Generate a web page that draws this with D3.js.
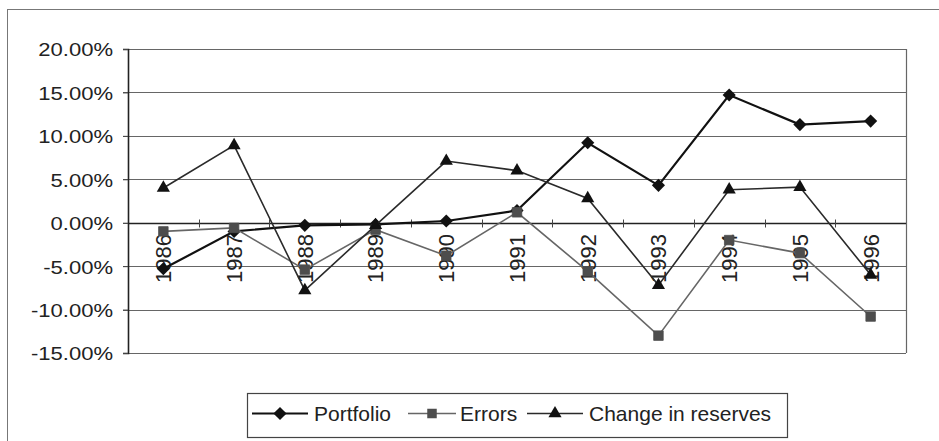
<!DOCTYPE html>
<html>
<head>
<meta charset="utf-8">
<script src="https://cdn.jsdelivr.net/npm/d3@7/dist/d3.min.js"></script>
<style>
  html, body { margin: 0; padding: 0; background: #fff; }
  svg { display: block; }
  text { font-family: "Liberation Sans", Arial, sans-serif; fill: #222; }
</style>
</head>
<body>
<svg id="chart" width="939" height="441"></svg>
<script>
// Yearly flows, in percent
const years = ["1986", "1987", "1988", "1989", "1990", "1991", "1992", "1993", "1994", "1995", "1996"];
const portfolio = [-5.3, -1.0, -0.3, -0.2, 0.2, 1.4, 9.2, 4.3, 14.7, 11.3, 11.7];
const errors = [-1.0, -0.6, -5.4, -0.8, -3.8, 1.2, -5.6, -13.0, -2.0, -3.5, -10.8];
const reserves = [4.0, 8.9, -7.8, -0.3, 7.1, 6.0, 2.8, -7.2, 3.8, 4.1, -6.0];
const yTicks = [20, 15, 10, 5, 0, -5, -10, -15];
const seriesNames = ["Portfolio", "Errors", "Change in reserves"];

const svg = d3.select("#chart");

// chart frame
svg.append("rect")
  .attr("x", 7.5).attr("y", 9.5).attr("width", 960).attr("height", 460)
  .attr("fill", "none").attr("stroke", "#777").attr("stroke-width", 1);

const plot = { left: 128, right: 906, top: 49, bottom: 353 };

const x = d3.scaleBand().domain(years).range([plot.left, plot.right]).padding(0);
const y = d3.scaleLinear().domain([-15, 20]).range([plot.bottom, plot.top]);
const cx = d => x(d) + x.bandwidth() / 2;

// horizontal gridlines
svg.append("g").selectAll("line").data(yTicks).join("line")
  .attr("x1", plot.left - 5).attr("x2", plot.right)
  .attr("y1", d => Math.round(y(d)) + 0.5).attr("y2", d => Math.round(y(d)) + 0.5)
  .attr("stroke", "#666").attr("stroke-width", 1.2);

// plot area border (right side)
svg.append("line").attr("x1", plot.right + 0.5).attr("x2", plot.right + 0.5)
  .attr("y1", plot.top).attr("y2", plot.bottom)
  .attr("stroke", "#666").attr("stroke-width", 1.2);

// value axis, labels with a plain hyphen for negatives
const pct = d => d3.format(".2f")(d).replace("\u2212", "-") + "%";
const yAxis = svg.append("g")
  .attr("transform", `translate(${plot.left},0)`)
  .call(d3.axisLeft(y).tickValues(yTicks).tickSize(5).tickFormat(pct));
yAxis.select(".domain").attr("stroke", "#222").attr("stroke-width", 1.6);
yAxis.selectAll(".tick line").attr("stroke", "#444");
yAxis.selectAll(".tick text")
  .attr("x", 0).attr("dy", null)
  .attr("dominant-baseline", "central")
  .attr("text-anchor", "end")
  .attr("font-size", 19)
  .attr("fill", "#222")
  .attr("transform", "translate(-15,0) scale(1.16,1)");

// category axis at zero
const y0 = Math.round(y(0)) + 0.5;
svg.append("line").attr("x1", plot.left).attr("x2", plot.right)
  .attr("y1", y0).attr("y2", y0).attr("stroke", "#222").attr("stroke-width", 1.4);
const boundaries = d3.range(1, years.length).map(i => x(years[i]));
svg.append("g").selectAll("line").data(boundaries).join("line")
  .attr("x1", d => Math.round(d) + 0.5).attr("x2", d => Math.round(d) + 0.5)
  .attr("y1", y0 - 4).attr("y2", y0 + 4)
  .attr("stroke", "#444").attr("stroke-width", 1);

// rotated year labels
svg.append("g").selectAll("text").data(years).join("text")
  .attr("transform", d => `translate(${cx(d)},234) rotate(-90)`)
  .attr("text-anchor", "end")
  .attr("dy", "0.36em")
  .attr("font-size", 22)
  .text(d => d);

// marker shapes
const diamond = d3.symbol().type(d3.symbolDiamond2).size(110);
const square = d3.symbol().type(d3.symbolSquare2).size(115);
const triangle = d3.symbol().type(d3.symbolTriangle).size(75);

const series = [
  { name: seriesNames[0], values: portfolio, stroke: "#111", width: 2.2, sym: diamond, fill: "#111" },
  { name: seriesNames[1], values: errors, stroke: "#666", width: 1.6, sym: square, fill: "#4d4d4d" },
  { name: seriesNames[2], values: reserves, stroke: "#2a2a2a", width: 1.6, sym: triangle, fill: "#111" }
];

const line = d3.line().x((d, i) => cx(years[i])).y(d => y(d));

series.forEach(s => {
  const g = svg.append("g");
  g.append("path").datum(s.values)
    .attr("d", line).attr("fill", "none")
    .attr("stroke", s.stroke).attr("stroke-width", s.width)
    .attr("stroke-linejoin", "miter");
  g.selectAll("path.m").data(s.values).join("path")
    .attr("class", "m")
    .attr("transform", (d, i) => `translate(${cx(years[i])},${y(d)})`)
    .attr("d", s.sym())
    .attr("fill", s.fill).attr("stroke", s.fill).attr("stroke-width", s.sym === square ? 0.8 : 0);
});

// legend
const legend = svg.append("g");
legend.append("rect")
  .attr("x", 247.5).attr("y", 393.5).attr("width", 540).attr("height", 44)
  .attr("fill", "#fff").attr("stroke", "#444").attr("stroke-width", 1.2);
const legendLines = [[252, 308], [408, 456], [527, 583]];
const legendText = [314, 460, 589];
const ly = 413.5;
series.forEach((s, i) => {
  const [a, b] = legendLines[i];
  legend.append("line")
    .attr("x1", a).attr("x2", b).attr("y1", ly).attr("y2", ly)
    .attr("stroke", s.stroke).attr("stroke-width", s.width);
  legend.append("path")
    .attr("transform", `translate(${(a + b) / 2},${ly})`)
    .attr("d", s.sym()).attr("fill", s.fill);
  legend.append("text")
    .attr("x", legendText[i]).attr("y", ly)
    .attr("dy", "0.36em")
    .attr("font-size", 21)
    .text(s.name);
});
</script>
</body>
</html>
